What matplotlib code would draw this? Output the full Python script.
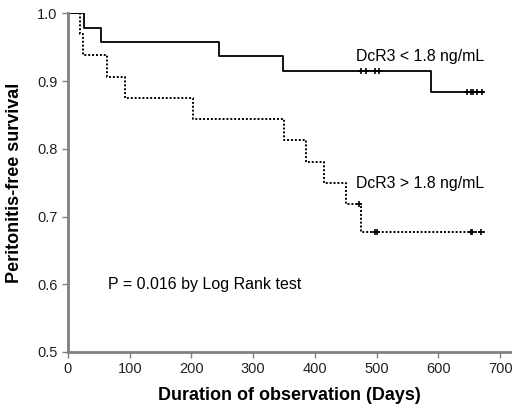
#!/usr/bin/env python3
"""
Kaplan-Meier curves of peritonitis-free survival by DcR3 level.
"""

import numpy as np
import matplotlib
matplotlib.use("Agg")
import matplotlib.pyplot as plt

plt.rcParams["font.family"] = ["Liberation Sans", "DejaVu Sans"]

# DcR3 < 1.8 ng/mL (step times in days, survival after each step)
low_times = [0, 26, 54, 244, 349, 588, 672]
low_surv = [1.0, 0.979, 0.958, 0.937, 0.915, 0.884, 0.884]
low_cens_t = [474, 482, 498, 503, 647, 653, 656, 663, 671]
low_cens_s = [0.915, 0.915, 0.915, 0.915, 0.884, 0.884, 0.884, 0.884, 0.884]

# DcR3 > 1.8 ng/mL
high_times = [0, 20, 25, 63, 93, 203, 350, 385, 414, 450, 475, 677]
high_surv = [1.0, 0.969, 0.938, 0.906, 0.875, 0.844, 0.813, 0.781, 0.750, 0.719, 0.677, 0.677]
high_cens_t = [471, 498, 501, 653, 655, 669]
high_cens_s = [0.719, 0.677, 0.677, 0.677, 0.677, 0.677]

x_ticks = [0, 100, 200, 300, 400, 500, 600, 700]
y_ticks = [0.5, 0.6, 0.7, 0.8, 0.9, 1.0]

fig = plt.figure(figsize=(5.17, 4.05), dpi=100)
ax = fig.add_axes([0.1315, 0.131, 0.855, 0.836])

# curves
ax.step(low_times, low_surv, where="post", color="black", lw=1.3)
ax.step(high_times, high_surv, where="post", color="black", lw=1.4, ls=(0, (1, 1)))
ax.plot(low_cens_t, low_cens_s, ls="none", marker="+", ms=5, mew=1.2, color="black")
ax.plot(high_cens_t, high_cens_s, ls="none", marker="+", ms=5, mew=1.2, color="black")

ax.text(466, 0.936, "DcR3 < 1.8 ng/mL", fontsize=11.4, va="center", ha="left")
ax.text(466, 0.749, "DcR3 > 1.8 ng/mL", fontsize=11.4, va="center", ha="left")
ax.text(65, 0.600, "P = 0.016 by Log Rank test", fontsize=11.5, va="center", ha="left")

ax.set_xlim(0, 716)
ax.set_ylim(0.5, 1.0)
ax.set_xticks(x_ticks)
ax.set_yticks(y_ticks)
ax.set_yticklabels([f"{v:.1f}" for v in y_ticks])

for side in ("top", "right"):
    ax.spines[side].set_visible(False)
for side in ("left", "bottom"):
    ax.spines[side].set_color("#808080")
    ax.spines[side].set_linewidth(2.0)
ax.tick_params(colors="#808080", labelcolor="#222222", labelsize=10.5, length=4, width=1.0)

ax.set_xlabel("Duration of observation (Days)", fontsize=13, fontweight="bold", labelpad=8)
ax.set_ylabel("Peritonitis-free survival", fontsize=13, fontweight="bold", labelpad=10)

fig.savefig("out.png", dpi=100)
